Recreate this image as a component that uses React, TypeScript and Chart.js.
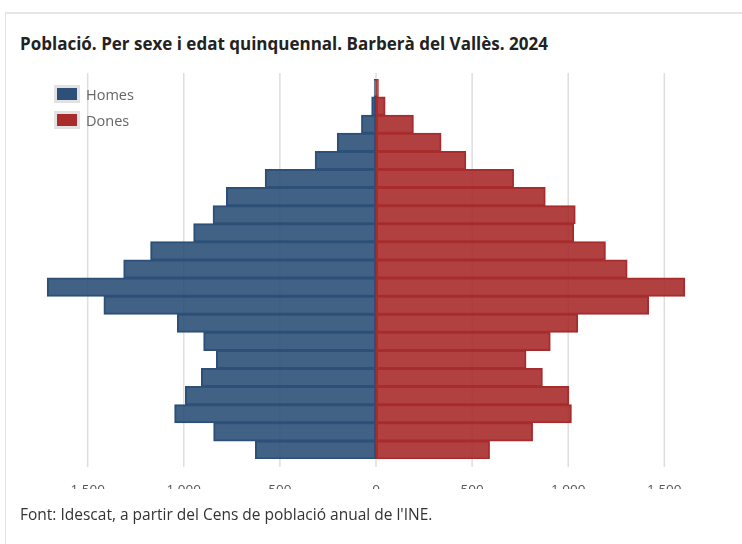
import React, { useEffect, useRef } from "react";
import { Chart, registerables } from "chart.js";

Chart.register(...registerables);

const ageGroups = [
  "100 i més", "95-99", "90-94", "85-89", "80-84", "75-79", "70-74", "65-69",
  "60-64", "55-59", "50-54", "45-49", "40-44", "35-39", "30-34", "25-29",
  "20-24", "15-19", "10-14", "5-9", "0-4",
];
const homes = [9, 22, 75, 201, 316, 576, 778, 847, 948, 1172, 1312, 1710, 1415, 1033, 896, 830, 908, 991, 1047, 844, 627];
const dones = [12, 47, 194, 338, 467, 715, 880, 1036, 1028, 1193, 1306, 1606, 1418, 1049, 906, 780, 865, 1003, 1016, 814, 590];
const tickValues = [-1500, -1000, -500, 0, 500, 1000, 1500];
const seriesNames = ["Homes", "Dones"];
const title = "Població. Per sexe i edat quinquennal. Barberà del Vallès. 2024";
const source = "Font: Idescat, a partir del Cens de població anual de l'INE.";

const homesColor = "#2c5078";
const donesColor = "#a82c2c";
const FONT = "'Open Sans', sans-serif";
const GRID = "#dedede";

function fmt(v: number): string {
  const a = Math.round(Math.abs(v));
  return String(a).replace(/\B(?=(\d{3})+(?!\d))/g, ".");
}

const gridPlugin = {
  id: "gridLines",
  beforeDatasetsDraw(chart: any) {
    const x = chart.scales.x;
    const { ctx, chartArea } = chart;
    ctx.save();
    ctx.strokeStyle = GRID;
    ctx.lineWidth = 1.5;
    for (const t of x.ticks) {
      const px = x.getPixelForValue(t.value);
      ctx.beginPath();
      ctx.moveTo(px, chartArea.top - 6);
      ctx.lineTo(px, chartArea.bottom + 8);
      ctx.stroke();
    }
    ctx.restore();
  },
};

export default function App() {
  const ref = useRef<HTMLCanvasElement | null>(null);

  useEffect(() => {
    if (!ref.current) return;
    const chart = new Chart(ref.current, {
      type: "bar",
      data: {
        labels: ageGroups,
        datasets: [
          {
            label: seriesNames[0],
            data: homes.map((v) => -v),
            backgroundColor: "rgba(44,80,120,0.9)",
            borderColor: homesColor,
            borderWidth: 1,
            borderSkipped: false,
            inflateAmount: 0.5,
            barPercentage: 1,
            categoryPercentage: 1,
          },
          {
            label: seriesNames[1],
            data: dones,
            backgroundColor: "rgba(168,44,44,0.9)",
            borderColor: donesColor,
            borderWidth: 1,
            borderSkipped: false,
            inflateAmount: 0.5,
            barPercentage: 1,
            categoryPercentage: 1,
          },
        ],
      },
      options: {
        indexAxis: "y",
        animation: false,
        responsive: false,
        maintainAspectRatio: false,
        layout: { padding: { left: 30, right: 20, top: 79, bottom: 55 } },
        plugins: {
          legend: { display: false },
          tooltip: { enabled: false },
          title: { display: false },
        },
        scales: {
          y: {
            stacked: true,
            display: false,
            offset: true,
          },
          x: {
            stacked: true,
            min: -1800,
            max: 1800,
            border: { display: false, z: -2 },
            grid: {
              color: "rgba(0,0,0,0)",
              drawTicks: true,
              tickLength: 8,
              z: -2,
            },
            ticks: {
              padding: 15,
              color: "#555",
              z: -1,
              font: { family: FONT, size: 13.5 },
              callback: (v: any) => fmt(Number(v)),
            },
            afterBuildTicks: (scale: any) => {
              scale.ticks = tickValues.map((v) => ({ value: v }));
            },
            afterFit: (scale: any) => {
              scale.height = 30;
            },
          },
        },
      },
      plugins: [gridPlugin],
    });
    return () => chart.destroy();
  }, []);

  const legendItem = (name: string, color: string, top: number) => (
    <div style={{ position: "absolute", left: 54, top, height: 16, display: "flex", alignItems: "center" }}>
      <div
        style={{
          width: 20,
          height: 12,
          background: color,
          border: "3px solid #e2e2e2",
          boxSizing: "content-box",
        }}
      />
      <span style={{ marginLeft: 6, fontFamily: FONT, fontSize: 14.5, color: "#666" }}>{name}</span>
    </div>
  );

  return (
    <div style={{ position: "absolute", left: 0, top: 0, width: 742, height: 544, background: "#fff", overflow: "hidden" }}>
      <div
        style={{
          position: "absolute",
          left: 5,
          top: 12,
          width: 800,
          height: 600,
          borderTop: "2px solid #e6e6e6",
          borderLeft: "1px solid #e3e3e3",
        }}
      />
      <div
        style={{
          position: "absolute",
          left: 20,
          top: 33,
          fontFamily: FONT,
          fontWeight: 700,
          fontSize: 17,
          color: "#222",
          whiteSpace: "nowrap",
          lineHeight: "22px",
        }}
      >
        {title}
      </div>
      <canvas ref={ref} width={742} height={544} style={{ position: "absolute", left: 0, top: 0, width: 742, height: 544 }} />
      {legendItem(seriesNames[0], homesColor, 86)}
      {legendItem(seriesNames[1], donesColor, 112)}
      <div
        style={{
          position: "absolute",
          left: 20,
          top: 503,
          fontFamily: FONT,
          fontSize: 15.5,
          color: "#333",
          whiteSpace: "nowrap",
          lineHeight: "22px",
        }}
      >
        {source}
      </div>
    </div>
  );
}
